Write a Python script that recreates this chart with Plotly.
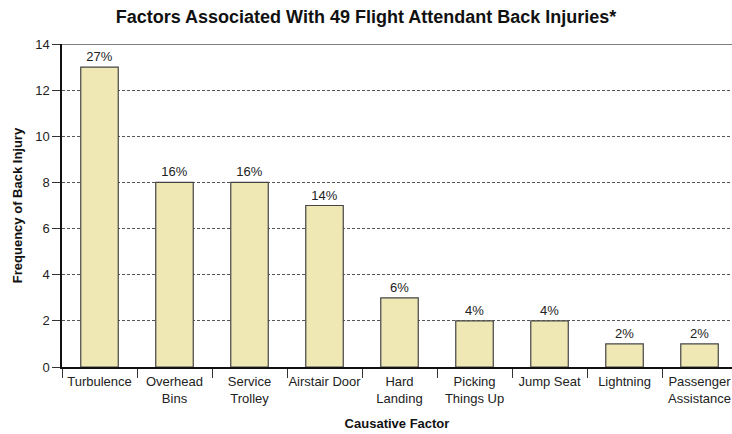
import plotly.graph_objects as go

# Causative factors and back-injury counts (49 cases total)
factors = ["Turbulence", "Overhead<br>Bins", "Service<br>Trolley", "Airstair Door",
           "Hard<br>Landing", "Picking<br>Things Up", "Jump Seat", "Lightning",
           "Passenger<br>Assistance"]
counts = [13, 8, 8, 7, 3, 2, 2, 1, 1]
pct_labels = ["27%", "16%", "16%", "14%", "6%", "4%", "4%", "2%", "2%"]
y_ticks = [0, 2, 4, 6, 8, 10, 12, 14]

FONT = "Liberation Sans, Arial, sans-serif"

fig = go.Figure(
    go.Bar(
        x=factors,
        y=counts,
        text=pct_labels,
        textposition="outside",
        textfont=dict(size=13, color="#222222", family=FONT),
        cliponaxis=False,
        marker=dict(color="#F0E8B4", line=dict(color="#444444", width=1.2)),
        width=0.5,
    )
)

# solid frame line along the top of the value axis
fig.add_shape(type="line", xref="paper", yref="y", x0=0, x1=1, y0=14, y1=14,
              line=dict(color="#555555", width=1.5))

fig.update_layout(
    width=732,
    height=434,
    margin=dict(l=62, r=0, t=44, b=67),
    plot_bgcolor="white",
    paper_bgcolor="white",
    showlegend=False,
    font=dict(family=FONT, size=13, color="#222222"),
    title=dict(
        text="<b>Factors Associated With 49 Flight Attendant Back Injuries*</b>",
        x=0.5, xanchor="center", y=0.962, yanchor="middle",
        font=dict(size=18, color="#111111", family=FONT),
    ),
    xaxis=dict(
        range=[-0.5, 8.433],
        automargin=False,
        tickangle=0,
        showline=True, linecolor="#111111", linewidth=1.5,
        ticks="outside", tickson="boundaries", ticklen=9, tickcolor="#333333",
        ticklabelstandoff=2,
        showgrid=False,
        tickfont=dict(size=13, color="#222222"),
        title=dict(text="<b>Causative Factor</b>", font=dict(size=13, color="#111111"), standoff=14),
    ),
    yaxis=dict(
        range=[0, 14],
        automargin=False,
        tickvals=y_ticks,
        showline=True, linecolor="#111111", linewidth=1.5,
        ticks="outside", ticklen=8, tickcolor="#333333",
        showgrid=True, gridcolor="#555555", griddash="3px,2px", gridwidth=1,
        zeroline=False,
        tickfont=dict(size=13, color="#222222"),
        title=dict(text="<b>Frequency of Back Injury</b>", font=dict(size=13, color="#111111"), standoff=10),
    ),
)

fig.write_html("out.html")
